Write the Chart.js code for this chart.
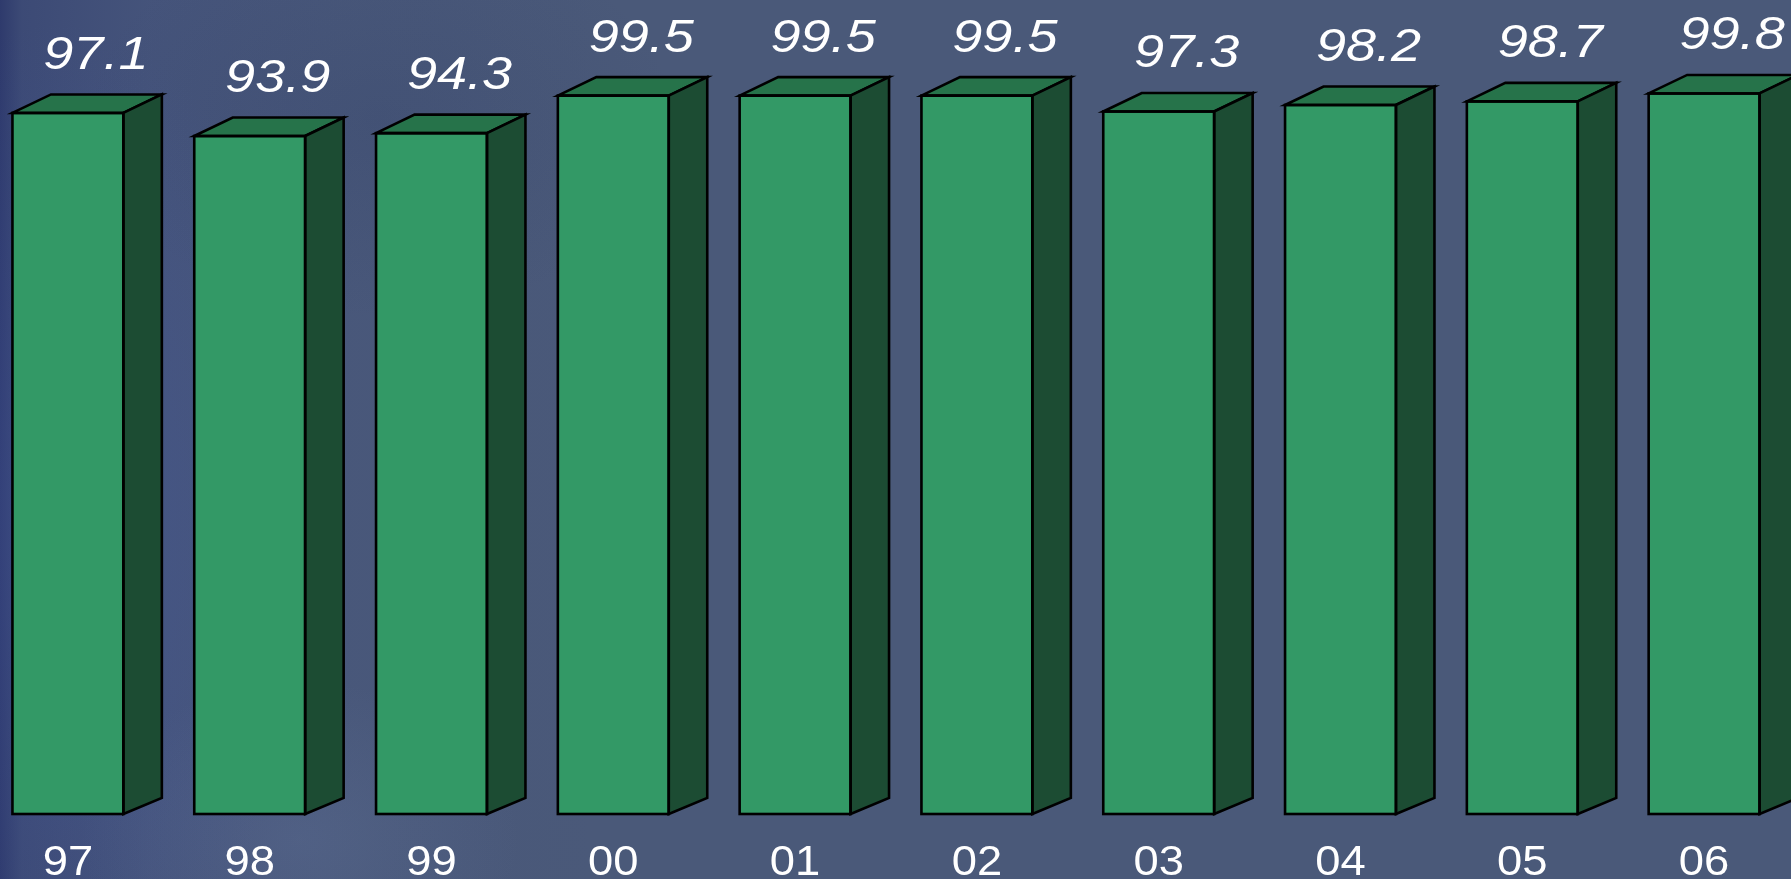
<!DOCTYPE html>
<html>
<head>
<meta charset="utf-8">
<script src="https://cdn.jsdelivr.net/npm/chart.js@4/dist/chart.umd.min.js"></script>
<style>
  html, body { margin: 0; padding: 0; width: 1791px; height: 879px; overflow: hidden; }
  body {
    background-color: #4a5979;
    background-image:
      radial-gradient(ellipse 260px 500px at 60px 520px, rgba(70,90,170,0.28), rgba(70,90,170,0) 100%),
      radial-gradient(ellipse 220px 160px at 300px 840px, rgba(120,140,180,0.18), rgba(120,140,180,0) 100%),
      radial-gradient(ellipse 300px 200px at 380px 120px, rgba(40,55,95,0.18), rgba(40,55,95,0) 100%),
      linear-gradient(90deg, rgba(28,38,100,0.6) 0px, rgba(38,50,112,0.38) 22px, rgba(52,66,128,0.24) 150px, rgba(60,75,130,0.12) 340px, rgba(74,89,121,0) 600px);
    background-repeat: no-repeat;
  }
  #wrap { position: absolute; left: -23px; top: 0; width: 1840px; height: 879px; }
</style>
</head>
<body>
<div id="wrap"><canvas id="chart" width="1840" height="879"></canvas></div>
<script>
// Yearly figures, one bar per year
const years = ['97', '98', '99', '00', '01', '02', '03', '04', '05', '06'];
const values = [97.1, 93.9, 94.3, 99.5, 99.5, 99.5, 97.3, 98.2, 98.7, 99.8];

const FRONT = '#339966';
const TOP = '#26734a';
const SIDE = '#1c4c33';
const FONT = '"Liberation Sans", Arial, sans-serif';

// Extrudes each bar into a box: top face and right side face
const boxFaces = {
  id: 'boxFaces',
  afterDatasetsDraw(chart) {
    const ctx = chart.ctx;
    const meta = chart.getDatasetMeta(0);
    const dx = 38.5, dyTop = 18.5, dyBot = 16;
    ctx.save();
    ctx.lineWidth = 2.6;
    ctx.strokeStyle = '#000';
    ctx.lineJoin = 'miter';
    meta.data.forEach((bar) => {
      const p = bar.getProps(['x', 'y', 'base', 'width'], true);
      const l = p.x - p.width / 2, r = p.x + p.width / 2;
      const t = p.y, b = p.base;
      // top face
      ctx.beginPath();
      ctx.moveTo(l, t);
      ctx.lineTo(l + dx, t - dyTop);
      ctx.lineTo(r + dx, t - dyTop);
      ctx.lineTo(r, t);
      ctx.closePath();
      ctx.fillStyle = TOP;
      ctx.fill();
      ctx.stroke();
      // side face
      ctx.beginPath();
      ctx.moveTo(r, t);
      ctx.lineTo(r + dx, t - dyTop);
      ctx.lineTo(r + dx, b - dyBot);
      ctx.lineTo(r, b);
      ctx.closePath();
      ctx.fillStyle = SIDE;
      ctx.fill();
      ctx.stroke();
    });
    // front outline on top so the edges stay crisp
    meta.data.forEach((bar) => {
      const p = bar.getProps(['x', 'y', 'base', 'width'], true);
      ctx.strokeRect(p.x - p.width / 2, p.y, p.width, p.base - p.y);
    });
    ctx.restore();
  }
};

// Draws text slightly widened, as the slide lettering is
function wideText(ctx, text, x, y, stretch) {
  ctx.save();
  ctx.translate(x, y);
  ctx.scale(stretch, 1);
  ctx.fillText(text, 0, 0);
  ctx.restore();
}

// Value printed above each box, year printed under each box
const textLayer = {
  id: 'textLayer',
  afterDraw(chart) {
    const ctx = chart.ctx;
    const meta = chart.getDatasetMeta(0);
    const xScale = chart.scales.x;
    ctx.save();
    ctx.fillStyle = '#ffffff';
    ctx.textAlign = 'center';
    ctx.textBaseline = 'alphabetic';
    ctx.font = 'italic 47px ' + FONT;
    meta.data.forEach((bar, i) => {
      const p = bar.getProps(['x', 'y'], true);
      wideText(ctx, values[i].toFixed(1), p.x + 28, p.y - 44, 1.15);
    });
    ctx.font = '42px ' + FONT;
    years.forEach((label, i) => {
      wideText(ctx, label, xScale.getPixelForValue(i), 875, 1.08);
    });
    ctx.restore();
  }
};

new Chart(document.getElementById('chart'), {
  type: 'bar',
  data: {
    labels: years,
    datasets: [{
      data: values,
      backgroundColor: FRONT,
      borderColor: '#000',
      borderWidth: 0,
      barPercentage: 0.61,
      categoryPercentage: 1.0
    }]
  },
  options: {
    responsive: false,
    animation: false,
    events: [],
    layout: { padding: { top: 92, left: 0, right: 22, bottom: 0 } },
    plugins: { legend: { display: false }, tooltip: { enabled: false } },
    scales: {
      x: {
        grid: { display: false, drawTicks: false },
        border: { display: false },
        ticks: { display: false },
        afterFit(scale) { scale.height = 65; }
      },
      y: {
        display: false,
        min: 0,
        max: 100
      }
    }
  },
  plugins: [boxFaces, textLayer]
});
</script>
</body>
</html>
